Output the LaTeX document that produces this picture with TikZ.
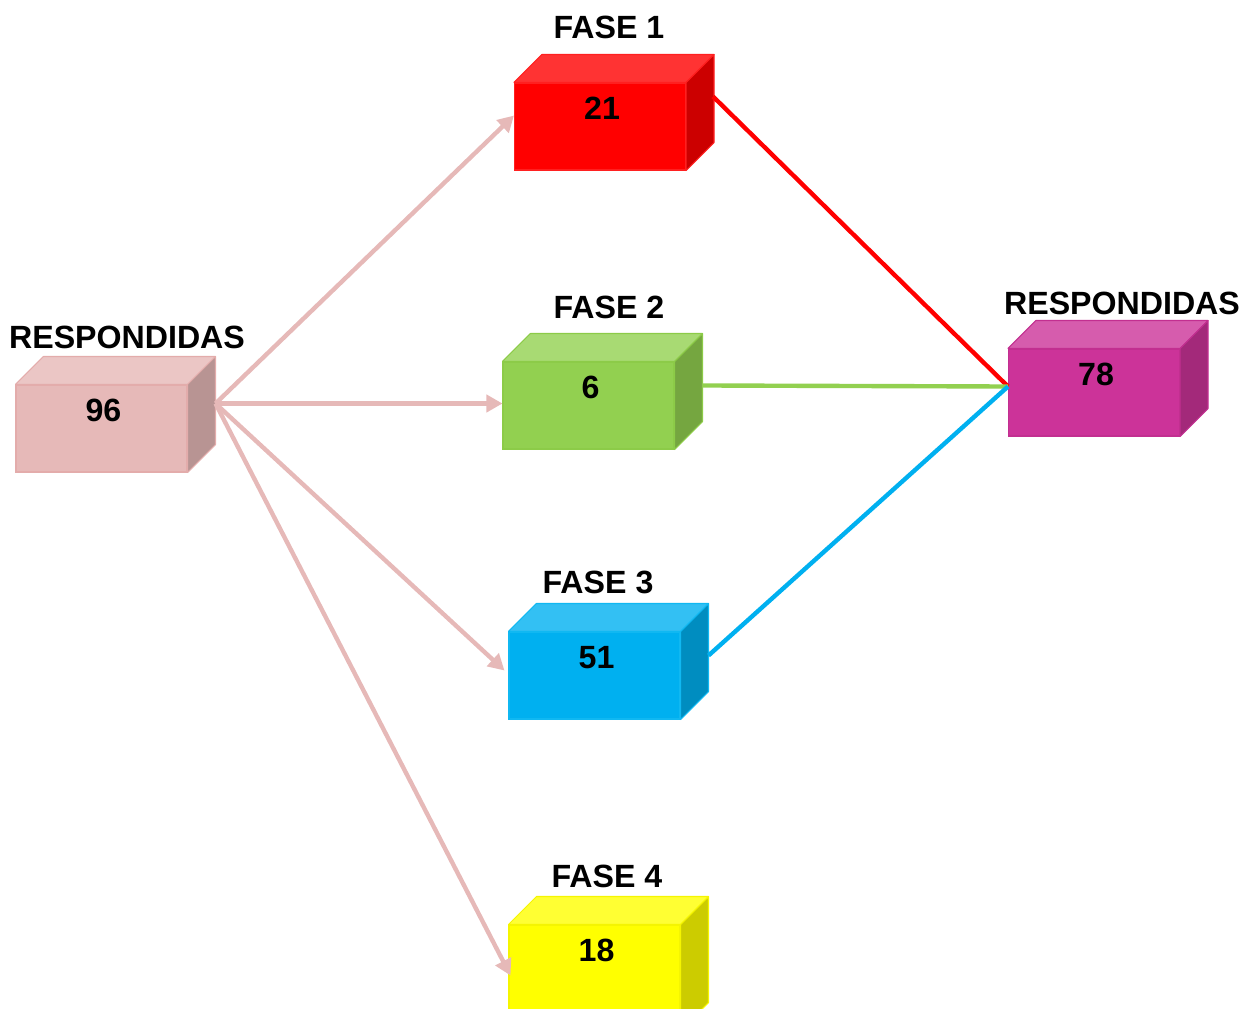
\documentclass[tikz,border=0pt]{standalone}
\usepackage{fontspec}
\setmainfont{Liberation Sans}
\usetikzlibrary{arrows.meta}
\definecolor{pkF}{HTML}{E6B9B8}\definecolor{pkT}{HTML}{EBC6C5}\definecolor{pkS}{HTML}{B89493}\definecolor{pkD}{HTML}{E3ACAB}
\definecolor{rdF}{HTML}{FF0000}\definecolor{rdT}{HTML}{FF3333}\definecolor{rdS}{HTML}{CC0000}\definecolor{rdD}{HTML}{FF2020}
\definecolor{grF}{HTML}{92D050}\definecolor{grT}{HTML}{A8DA73}\definecolor{grS}{HTML}{75A640}\definecolor{grD}{HTML}{8CCB48}
\definecolor{blF}{HTML}{00B0F0}\definecolor{blT}{HTML}{33C0F3}\definecolor{blS}{HTML}{008DC0}\definecolor{blD}{HTML}{10B8F2}
\definecolor{ylF}{HTML}{FFFF00}\definecolor{ylT}{HTML}{FFFF33}\definecolor{ylS}{HTML}{CCCC00}\definecolor{ylD}{HTML}{F5F500}
\definecolor{mgF}{HTML}{CC3399}\definecolor{mgT}{HTML}{D65CAD}\definecolor{mgS}{HTML}{A3297A}\definecolor{mgD}{HTML}{C22F90}
\definecolor{arrowpink}{HTML}{E6B9B8}
\definecolor{lineRed}{HTML}{FF0000}
\definecolor{lineGreen}{HTML}{92D050}
\definecolor{lineBlue}{HTML}{00B0F0}
\newcommand\cubebox[6][]{% options, name, x, y, colour prefix, number
  \node[frontface, fill=#5F, draw=#5D, #1] (#2) at (#3,#4) {};
  \draw[facedge, fill=#5T, draw=#5D] (#2.north west) -- ++(28,-28) -- ([shift={(28,-28)}]#2.north east) -- (#2.north east) -- cycle;
  \draw[facedge, fill=#5S, draw=#5D] (#2.north east) -- ++(28,-28) -- ([shift={(28,-28)}]#2.south east) -- (#2.south east) -- cycle;
  \node[numtext] (#2-num) at ([shift={(2,31)}]#2.north) {#6};
}
\begin{document}
\begin{tikzpicture}[x=0.02cm,y=-0.02cm,
  frontface/.style={rectangle, minimum width=3.42cm, minimum height=1.74cm, inner sep=0pt, line width=0.6pt},
  facedge/.style={line width=0.6pt, line join=round},
  numtext/.style={font=\fontsize{18.3}{20}\selectfont\bfseries, inner sep=0pt, text height=0.72em, text depth=0pt},
  headtext/.style={font=\fontsize{18.3}{20}\selectfont\bfseries, inner sep=0pt, text height=0.72em, text depth=0pt},
  feed/.style={draw=arrowpink, line width=2.5pt, -{Triangle[length=0.32cm, width=0.34cm]}},
  joinline/.style={line width=2.5pt}
]
\useasboundingbox (0,0) rectangle (1254,1008);
\clip (0,0) rectangle (1254,1008);

\cubebox{L}{101.5}{428.5}{pk}{96}
\cubebox{R}{600}{126.5}{rd}{21}
\cubebox{G}{588.5}{405.5}{gr}{6}
\cubebox{B}{594.5}{675.5}{bl}{51}
\cubebox[minimum height=2.1cm]{Y}{594.5}{977.5}{yl}{18}
\cubebox{M}{1094}{392.5}{mg}{78}

\node[headtext] (hL) at (127,342) {RESPONDIDAS};
\node[headtext] (h1) at (609,32) {FASE 1};
\node[headtext] (h2) at (609,312) {FASE 2};
\node[headtext] (h3) at (598,587) {FASE 3};
\node[headtext] (h4) at (607,881) {FASE 4};
\node[headtext] (hM) at (1122,308) {RESPONDIDAS};

\coordinate (Lout) at ([shift={(28,-25)}]L.east);
\coordinate (Min) at ([shift={(0,-6)}]M.west);

\draw[feed] (Lout) -- ([shift={(0,-11)}]R.west);
\draw[feed] (Lout) -- ([shift={(0,-2)}]G.west);
\draw[feed] (Lout) -- ([shift={(-4,-5)}]B.west);
\draw[feed] (Lout) -- ([shift={(2,-2)}]Y.west);

\draw[joinline, lineRed] ([shift={(27,14)}]R.north east) -- (Min);
\draw[joinline, lineGreen] ([shift={(28,24)}]G.north east) -- (Min);
\draw[joinline, lineBlue] ([shift={(28,24)}]B.north east) -- (Min);
\end{tikzpicture}
\end{document}
